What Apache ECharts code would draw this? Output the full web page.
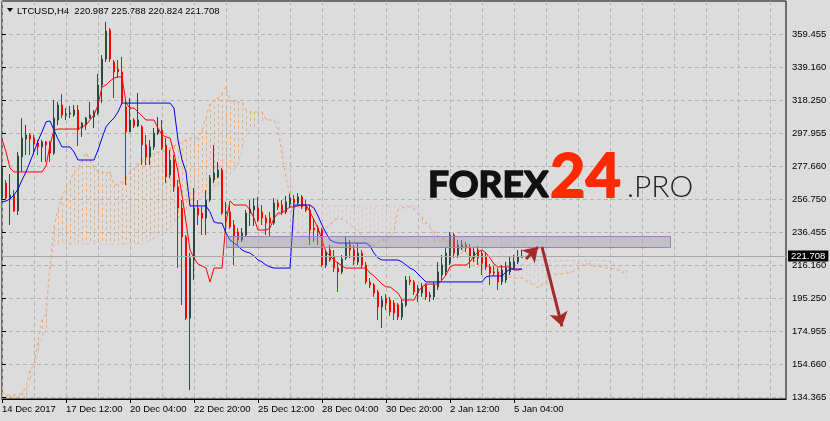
<!DOCTYPE html>
<html><head><meta charset="utf-8">
<script src="https://cdn.jsdelivr.net/npm/echarts@6/dist/echarts.min.js"></script>
<style>html,body{margin:0;padding:0;background:#dcdcdc;}#c{width:830px;height:421px;}</style>
</head><body><div id="c"></div>
<script>
const symbolName = 'LTCUSD';
const timeframe = 'H4';
const xLabels = ['14 Dec 2017','17 Dec 12:00','20 Dec 04:00','22 Dec 20:00','25 Dec 12:00','28 Dec 04:00','30 Dec 20:00','2 Jan 12:00','5 Jan 04:00'];
const yLabels = ['134.365','154.660','174.955','195.250','216.160','236.455','256.750','277.660','297.955','318.250','339.160','359.455'];
// [open, close, low, high]
const candles = [
[257.7,276.3,256.5,278.2],[267.0,257.7,256.5,268.9],[257.1,259.6,241.0,272.6],[259.6,249.7,249.1,262.7],[249.7,283.8,247.2,286.3],
[283.2,294.9,273.9,307.3],[294.3,296.8,284.4,303.0],[296.8,294.3,284.4,298.0],[294.9,291.2,284.4,296.8],[291.8,289.4,284.4,293.7],
[289.4,292.5,280.1,293.7],[292.5,290.6,280.1,293.1],[291.8,285.6,280.1,293.1],[285.6,307.3,284.4,318.5],[306.1,315.4,303.0,317.3],
[315.4,309.2,307.3,322.2],[309.2,309.8,306.1,313.5],[309.8,310.4,307.3,314.8],[309.2,312.3,308.0,315.4],[312.3,299.9,290.0,315.4],
[301.1,304.2,295.6,304.9],[303.0,307.3,299.9,308.0],[307.3,309.2,306.7,317.3],[308.0,311.1,301.1,312.3],[310.4,327.8,309.2,334.6],
[327.8,343.9,316.6,346.4],[343.9,361.3,342.1,366.9],[361.9,343.9,342.1,363.1],[342.1,335.9,319.7,343.3],[337.7,335.9,332.1,343.3],
[335.9,317.3,315.4,345.2],[314.2,298.7,265.8,318.5],[298.7,306.1,298.7,319.7],[306.1,302.4,301.1,307.3],[302.4,306.1,301.8,322.8],
[301.8,290.6,278.2,303.0],[290.6,283.2,278.2,296.8],[283.2,289.4,278.2,293.7],[289.4,298.0,287.5,301.1],[298.0,299.9,296.8,308.0],
[299.9,288.7,287.5,306.1],[290.6,270.8,267.0,294.9],[272.0,281.3,270.1,287.5],[281.3,264.6,261.5,284.4],[264.6,251.5,214.3,268.9],
[251.5,233.6,191.4,256.5],[233.6,183.3,182.1,234.8],[183.3,220.5,138.7,223.6],[219.3,251.5,206.9,263.9],[251.5,247.2,241.0,256.5],
[248.4,245.3,234.8,252.2],[245.3,256.5,234.8,262.7],[256.5,270.1,255.3,272.0],[268.9,273.2,267.0,290.6],[270.8,275.1,270.1,280.1],
[275.1,248.4,247.2,276.3],[248.4,249.1,236.0,255.3],[249.1,239.8,238.5,254.6],[241.0,233.6,216.2,244.1],[236.7,231.7,228.6,239.1],
[231.7,236.0,230.5,239.1],[234.8,248.4,233.6,250.3],[248.4,250.9,240.4,256.5],[250.3,252.8,240.4,257.7],[251.5,244.1,242.9,258.4],
[249.1,245.3,241.0,253.4],[245.3,242.2,234.8,247.2],[245.3,242.2,233.6,249.1],[242.2,254.6,241.0,257.7],[254.6,252.2,250.3,256.5],
[253.4,249.1,247.2,256.5],[249.1,255.3,247.8,259.0],[254.0,257.7,251.5,260.2],[257.1,254.6,252.8,259.6],[254.6,258.4,253.4,260.8],
[258.4,252.2,250.9,259.6],[253.4,250.3,249.1,256.5],[250.3,237.9,228.6,253.4],[239.1,237.9,230.5,245.3],[239.1,236.7,228.6,241.0],
[237.9,216.2,215.0,239.1],[216.2,224.3,214.3,225.5],[225.5,219.3,218.1,228.6],[221.2,214.3,211.9,225.5],[214.3,211.9,199.5,218.1],
[211.9,219.9,210.6,222.4],[220.5,229.8,219.3,234.2],[228.6,225.5,220.5,231.7],[225.5,219.3,216.2,228.6],[218.1,223.6,216.2,229.8],
[223.6,216.2,214.3,225.5],[216.2,205.7,204.4,218.1],[205.7,203.8,201.9,208.1],[203.8,198.8,196.4,205.0],[199.5,190.2,182.1,200.7],
[190.2,194.5,177.1,197.0],[195.7,192.6,188.3,198.2],[194.5,187.1,184.6,196.4],[192.6,186.4,182.1,194.5],[191.4,184.0,182.1,192.6],
[184.0,192.6,182.1,194.5],[191.4,206.9,190.2,209.4],[206.9,205.7,203.8,209.4],[205.7,199.5,197.6,206.9],[198.8,201.9,193.3,203.8],
[198.8,202.6,196.4,205.0],[203.8,196.4,194.5,205.0],[196.4,197.6,193.3,199.5],[196.4,203.8,194.5,205.7],[202.6,211.9,200.7,218.1],
[210.0,216.2,206.9,222.4],[211.9,223.6,210.0,226.7],[217.4,234.8,216.2,236.7],[234.8,223.6,220.5,236.0],[222.4,228.6,220.5,231.7],
[226.7,228.6,225.5,231.7],[228.6,226.7,224.3,230.5],[226.7,221.2,214.3,229.2],[220.5,224.3,218.1,226.7],[225.5,220.5,216.2,228.0],
[223.6,217.4,210.0,225.5],[221.2,215.0,213.1,224.3],[215.0,211.2,203.8,216.8],[211.9,211.2,209.4,215.6],[211.9,205.7,200.7,214.3],
[205.7,213.1,203.8,216.2],[206.9,214.3,205.0,218.1],[211.9,218.1,210.0,221.8],[214.3,218.1,213.1,222.4],[218.1,221.2,216.8,225.5],
[220.987,221.708,220.824,225.788]
];
const tenkan = [
294.3,286.3,276.3,273.9,273.9,273.9,273.9,273.9,273.9,273.9,273.9,
277.6,290.6,299.9,
300.5,300.5,300.5,300.5,300.5,300.5,
301.8,303.0,306.1,309.2,315.4,326.6,327.8,330.3,332.1,332.8,332.8,
316.6,313.5,313.5,311.1,308.6,306.1,306.1,306.1,301.1,296.8,
295.6,294.9,285.6,273.9,259.6,242.9,225.5,220.5,216.8,215.6,
214.3,205.7,214.3,214.3,214.3,242.9,255.9,253.4,253.4,253.4,
253.4,250.3,245.3,237.9,237.9,237.9,239.1,245.3,248.4,248.4,
250.3,252.2,252.2,252.8,253.4,253.4,249.1,244.1,239.1,231.7,
224.3,221.8,219.3,217.4,215.6,214.3,214.3,214.3,214.3,214.3,214.3,
211.2,209.4,206.9,204.4,202.6,202.6,200.7,198.8,194.5,194.5,194.5,194.5,
199.5,202.6,204.4,204.4,204.4,204.4,206.9,210.0,215.0,
216.2,216.2,216.2,216.2,218.1,221.8,224.3,225.5,223.6,220.5,
216.8,215.0,215.0,215.0,215.0,213.1,213.1,213.7
];
const kijun = [
255.3,255.9,257.1,259.6,263.3,268.9,273.9,280.1,286.3,293.1,
298.7,304.9,305.5,299.9,294.3,289.4,289.4,289.4,286.3,281.3,
281.3,281.3,281.3,281.3,287.5,294.9,301.8,304.9,307.3,311.1,
316.6,316.6,316.6,316.6,316.6,316.6,316.6,316.6,316.6,316.6,316.6,316.6,316.6,
313.5,293.7,281.3,273.9,
252.8,252.8,252.8,252.8,252.8,
249.1,242.9,242.2,242.2,236.0,231.7,229.8,228.0,225.5,224.3,
223.6,221.8,219.3,218.1,216.2,215.0,
214.3,214.3,214.3,214.3,214.3,
253.4,253.4,253.4,253.4,253.4,
251.5,246.6,241.0,236.0,231.7,230.5,
229.8,229.8,229.8,229.8,229.8,229.8,229.8,229.8,
228.0,223.6,220.5,
219.3,219.3,219.3,219.3,219.3,
218.1,216.2,214.3,213.1,210.6,208.1,
205.7,205.7,205.7,205.7,205.7,205.7,205.7,205.7,205.7,205.7,205.7,205.7,205.7,205.7,205.7,
208.8,209.4,209.4,209.4,209.4,211.9,213.7,213.7,213.7,213.7
];
const spanA = [
137.5,135.6,135.6,135.6,135.6,136.8,140.4,151.1,154.2,168.5,
182.1,186.4,216.2,239.8,250.3,258.4,264.6,267.7,273.9,276.3,
281.3,285.6,281.3,276.3,273.9,273.9,273.2,273.9,265.8,266.4,
267.7,270.8,273.9,276.3,279.4,281.3,283.2,284.4,285.6,286.3,
286.3,287.5,288.7,290.0,291.2,292.5,293.7,294.9,294.9,294.9,
299.9,307.3,316.6,318.5,319.7,322.8,326.6,318.5,317.3,317.3,
317.3,312.3,311.1,311.1,311.1,311.1,306.7,306.1,306.1,299.9,
283.8,270.8,258.4,239.1,236.7,234.8,233.6,232.9,231.7,234.2,
236.7,239.1,241.0,244.1,245.3,244.7,242.9,241.0,239.1,236.7,
234.2,231.7,228.6,228.0,229.8,231.7,231.7,233.6,236.7,250.3,
251.5,252.2,252.2,250.9,247.8,246.0,242.9,239.1,236.7,234.2,
232.9,231.7,229.8,228.0,226.7,225.5,224.3,222.4,219.9,217.4,
216.2,215.6,215.0,214.3,212.5,210.6,208.8,208.8,208.1,208.1,
208.1,206.3,205.0,203.8,201.9,203.8,205.7,208.8,210.0,210.6,
210.6,211.2,211.2,212.5,214.3,215.6,216.8,216.8,215.6,215.0,
215.0,214.3,214.3,213.7,213.1,211.2,213.1
];
const spanB = [
131.3,131.3,131.3,131.3,131.3,131.3,133.7,144.9,151.1,162.3,
171.0,177.1,213.1,229.2,229.2,229.2,229.2,229.2,229.2,229.2,
229.2,229.2,229.2,229.2,229.2,229.2,229.2,229.2,229.2,229.2,
229.2,229.2,229.2,229.2,229.2,229.2,230.5,231.1,232.9,234.2,
236.0,236.7,239.1,242.9,245.3,247.8,250.3,252.2,253.4,256.5,
258.4,259.6,261.5,263.9,265.8,268.9,270.8,272.6,275.1,278.2,
287.5,296.8,299.9,301.8,304.9,306.1,306.1,306.1,306.1,306.1,
290.6,279.4,274.5,252.8,252.8,252.8,252.8,252.8,252.8,252.8,
252.8,252.8,252.8,252.8,252.8,252.8,252.8,252.8,252.8,252.8,
252.8,252.8,252.8,252.8,252.8,252.8,252.8,252.8,252.8,252.8,
252.8,252.8,252.8,252.8,250.9,241.9,241.9,241.9,230.8,230.8,
230.8,230.8,223.3,223.3,223.3,223.3,223.3,222.4,216.8,214.7,
214.7,214.7,214.7,214.7,214.7,233.9,233.9,233.9,233.9,233.9,
233.9,228.6,226.7,219.0,219.0,219.0,219.0,219.0,219.0,219.0,
219.0,219.0,219.0,219.0,219.0,219.0,219.0,219.0,219.0,219.0,
219.0,219.0,218.4,216.8,214.7,211.2,209.1
];
const zoneBars = [56, 167];
const zonePrices = [227.2, 234.0];
const arrowUp = [[131, 219.9], [134, 227.4]];
const arrowDown = [[135, 227.4], [140, 178.2]];
const totalBars = 197;
const priceMin = 133.12, priceMax = 379.88;

const FONT = 'Liberation Sans, Arial, sans-serif';
const LOGO = 'Lato, "Open Sans", sans-serif';
const last = candles[candles.length - 1];
const fmt = v => v.toFixed(3);
const titleText = symbolName + ',' + timeframe + '  ' + fmt(last[0]) + ' ' + fmt(last[3]) + ' ' + fmt(last[2]) + ' ' + fmt(last[1]);
const cats = [];
for (let i = 0; i < totalBars; i++) cats.push(String(i));
const hatch = spanA.map((a, j) => [j, a, spanB[j]]);
const labelShown = i => i % 16 === 0 && i <= 128;

const chart = echarts.init(document.getElementById('c'), null, {renderer: 'canvas', width: 830, height: 421});
chart.setOption({
  backgroundColor: '#dcdcdc',
  animation: false,
  grid: [
    {left: 2, right: 44, top: 1, bottom: 22, show: true, borderColor: '#000', borderWidth: 1, backgroundColor: 'transparent', containLabel: false, outerBoundsMode: 'none'},
    {left: 2, right: 44, top: 34, bottom: 24, show: false, containLabel: false, outerBoundsMode: 'none'}
  ],
  xAxis: [
    {type: 'category', gridIndex: 0, data: cats, boundaryGap: false,
     axisLine: {show: true, lineStyle: {color: '#000', width: 1}},
     axisTick: {show: true, interval: labelShown, length: 4, lineStyle: {color: '#000'}},
     axisLabel: {show: true, interval: labelShown, formatter: (v, i) => labelShown(i) ? xLabels[i / 16] : '',
       align: 'left', color: '#000', fontSize: 9.5, fontFamily: FONT, margin: 5},
     splitLine: {show: true, interval: i => i % 8 === 0, lineStyle: {color: '#b4b4b4', type: [4, 3], width: 1}}},
    {type: 'value', gridIndex: 1, min: 0, max: 1, show: false}
  ],
  yAxis: [
    {type: 'value', gridIndex: 0, min: priceMin, max: priceMax, show: false, splitLine: {show: false}},
    {type: 'value', gridIndex: 1, min: 0, max: 11, interval: 1, position: 'right',
     axisLine: {show: false},
     axisTick: {show: true, length: 4, lineStyle: {color: '#000'}},
     axisLabel: {formatter: v => yLabels[Math.round(v)], color: '#000', fontSize: 9.5, fontFamily: FONT, margin: 6},
     splitLine: {show: true, lineStyle: {color: '#b4b4b4', type: [4, 3], width: 1}}}
  ],
  series: [
    {type: 'custom', name: 'cloud', xAxisIndex: 0, yAxisIndex: 0, data: hatch, clip: true, silent: true, z: 1,
     encode: {x: 0, y: [1, 2]},
     renderItem: (params, api) => {
       const j = api.value(0), a = api.value(1), b = api.value(2);
       const p1 = api.coord([j, a]), p2 = api.coord([j, b]);
       const x = Math.round(p1[0]) + 0.5;
       return {type: 'line', shape: {x1: x, y1: p1[1], x2: x, y2: p2[1]},
         style: {stroke: a >= b ? '#F4A460' : '#D8BFD8', lineWidth: 1, lineDash: [3, 3], opacity: 0.8}};
     }},
    {type: 'line', name: 'Senkou A', data: spanA, showSymbol: false, symbol: 'none', z: 2, silent: true,
     lineStyle: {color: '#F4A460', width: 1, type: [3, 3]}},
    {type: 'line', name: 'Senkou B', data: spanB, showSymbol: false, symbol: 'none', z: 2, silent: true,
     lineStyle: {color: '#D8BFD8', width: 1, type: [3, 3]}},
    {type: 'candlestick', name: symbolName, data: candles, barWidth: 2, z: 3, silent: true,
     itemStyle: {color: '#356959', color0: '#ff0000', borderColor: '#2a4a42', borderColor0: '#ff0000', borderWidth: 1},
     markLine: {symbol: ['none', 'none'], silent: true, animation: false,
       data: [{yAxis: last[1]}],
       lineStyle: {color: '#a8a8a8', type: 'solid', width: 1},
       label: {show: true, position: 'end', formatter: fmt(last[1]), color: '#fff', backgroundColor: '#000',
         padding: [1, 3, 0, 3], fontSize: 9.5, fontFamily: FONT, distance: 2}}},
    {type: 'line', name: 'Tenkan', data: tenkan, showSymbol: false, symbol: 'none', z: 4, silent: true,
     lineStyle: {color: '#ff0000', width: 1}},
    {type: 'line', name: 'Kijun', data: kijun, showSymbol: false, symbol: 'none', z: 4, silent: true,
     lineStyle: {color: '#0000ff', width: 1}},
    {type: 'custom', name: 'zone', xAxisIndex: 0, yAxisIndex: 0, z: 5, silent: true,
     data: [[zoneBars[0], zonePrices[1], zoneBars[1], zonePrices[0]]],
     encode: {x: [0, 2], y: [1, 3]},
     renderItem: (params, api) => {
       const p1 = api.coord([api.value(0), api.value(1)]);
       const p2 = api.coord([api.value(2), api.value(3)]);
       return {type: 'rect', shape: {x: Math.round(p1[0]) + 0.5, y: Math.round(p1[1]) + 0.5,
         width: Math.round(p2[0] - p1[0]), height: Math.round(p2[1] - p1[1])},
         style: {fill: 'rgba(150,150,165,0.4)', stroke: '#9a7fc4', lineWidth: 1}};
     }},
    {type: 'lines', coordinateSystem: 'cartesian2d', xAxisIndex: 0, yAxisIndex: 0, z: 6, silent: true,
     symbol: ['none', 'arrow'], symbolSize: 14,
     lineStyle: {color: '#a52a2a', width: 3, opacity: 1, curveness: 0},
     data: [{coords: arrowUp}, {coords: arrowDown}]}
  ],
  graphic: [
    {type: 'polygon', shape: {points: [[7, 8], [13, 8], [10, 12]]}, style: {fill: '#000'}, silent: true},
    {type: 'text', x: 17, y: 11, silent: true, style: {text: titleText, fill: '#000', font: '9.5px ' + FONT, verticalAlign: 'middle'}},
    {type: 'text', x: 428, y: 185, silent: true, z: 10, style: {text: 'FOREX', fill: '#111', stroke: '#111', lineWidth: 1.6, font: 'bold 37px ' + LOGO, verticalAlign: 'middle'}},
    {type: 'text', x: 550, y: 177, silent: true, z: 10, style: {text: '24', fill: '#ff2a00', stroke: '#ff2a00', lineWidth: 1.8, font: 'bold 61px ' + LOGO, verticalAlign: 'middle'}},
    {type: 'text', x: 627, y: 187, silent: true, z: 10, style: {text: '.PRO', fill: '#222', font: '300 30px ' + LOGO, verticalAlign: 'middle'}}
  ]
});
</script>
</body></html>
